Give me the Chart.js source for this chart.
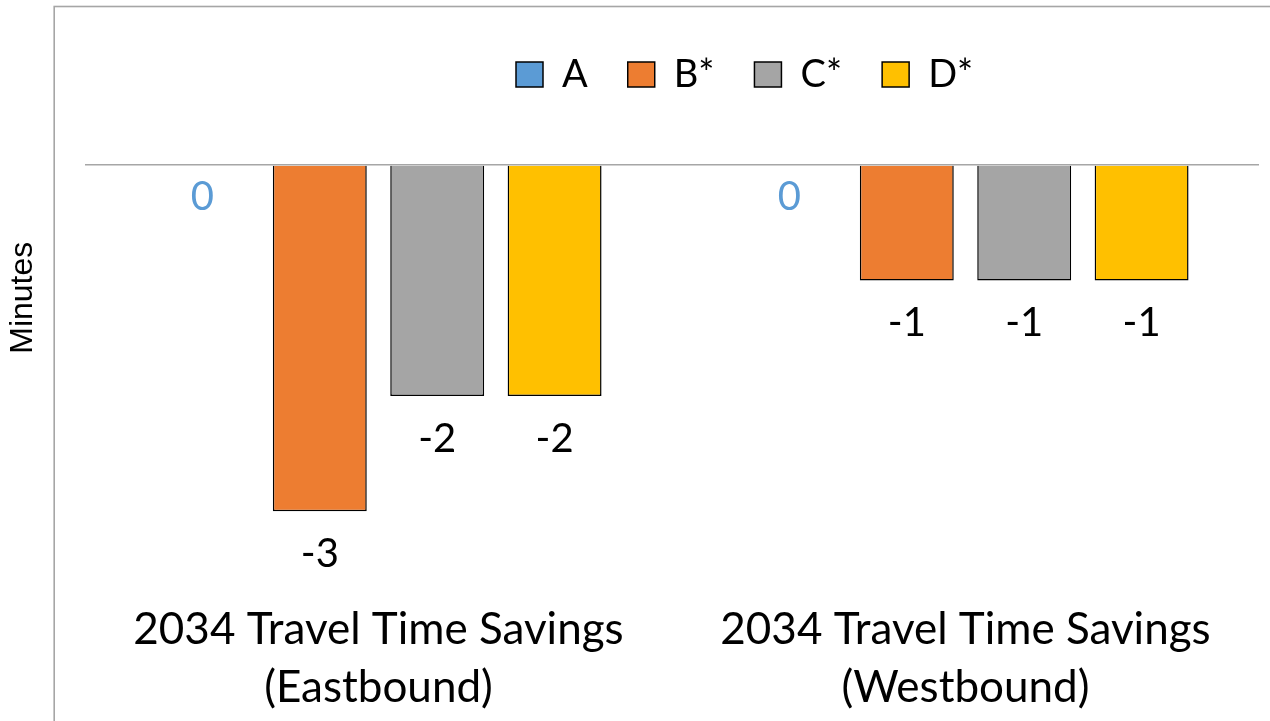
<!DOCTYPE html>
<html>
<head>
<meta charset="utf-8">
<script src="https://cdn.jsdelivr.net/npm/chart.js@4.4.1/dist/chart.umd.min.js"></script>
<style>
  html, body { margin: 0; padding: 0; background: #ffffff; }
  #wrap { width: 1270px; height: 721px; position: relative; }
</style>
</head>
<body>
<div id="wrap"><canvas id="c" width="1270" height="721"></canvas></div>
<script>
// ---- data ----
const categories = [
  ["2034 Travel Time Savings", "(Eastbound)"],
  ["2034 Travel Time Savings", "(Westbound)"]
];
const seriesNames = ["A", "B*", "C*", "D*"];
const seriesA = [0, 0];
const seriesB = [-3, -1];
const seriesC = [-2, -1];
const seriesD = [-2, -1];
const yAxisTitle = "Minutes";

// ---- styles ----
const colors = ["#5B9BD5", "#ED7D31", "#A5A5A5", "#FFC000"];
const labelColors = ["#5B9BD5", "#000000", "#000000", "#000000"];
const catFont = "Lato";

const seriesValues = [seriesA, seriesB, seriesC, seriesD];
const datasets = seriesNames.map((name, i) => ({
  label: name,
  data: seriesValues[i],
  backgroundColor: colors[i],
  borderColor: "#000000",
  borderWidth: 1.5,
  borderSkipped: "start",
  categoryPercentage: 0.8,
  barPercentage: 0.8
}));

const LEGEND_PAD = 40;
const LEGEND_FS = 38;
const LEGEND_H = Math.max(LEGEND_FS, 25) + LEGEND_PAD + 10;

const framePlugin = {
  id: "frame",
  beforeDraw(chart) {
    const ctx = chart.ctx;
    ctx.save();
    ctx.fillStyle = "#ffffff";
    ctx.fillRect(0, 0, chart.width, chart.height);
    ctx.strokeStyle = "#A6A6A6";
    ctx.lineWidth = 1.6;
    ctx.strokeRect(54.2, 6.5, 3000, 3000);
    ctx.restore();
  }
};

const legendPlace = {
  id: "legendPlace",
  afterLayout(chart) {
    const lg = chart.legend;
    if (!lg) return;
    const lo = lg.options.labels;
    const pad = lo.padding;
    const fs = lo.font.size;
    const itemH = Math.max(fs, lo.boxHeight || fs);
    const h = lg.height;
    lg.left = 516 - pad;
    lg.right = chart.width;
    lg.width = lg.right - lg.left;
    lg.top = 74.5 - pad - itemH / 2;
    lg.bottom = lg.top + h;
  }
};

const dataLabels = {
  id: "dataLabels",
  afterDatasetsDraw(chart) {
    const ctx = chart.ctx;
    ctx.save();
    ctx.font = "40px " + catFont;
    ctx.textAlign = "center";
    ctx.textBaseline = "middle";
    chart.data.datasets.forEach((ds, i) => {
      const meta = chart.getDatasetMeta(i);
      meta.data.forEach((el, j) => {
        const v = ds.data[j];
        ctx.fillStyle = labelColors[i];
        const y = el.y + (v < 0 ? 43 : 32);
        ctx.fillText(String(v), el.x, y);
      });
    });
    ctx.restore();
  }
};

new Chart(document.getElementById("c"), {
  type: "bar",
  data: { labels: categories, datasets: datasets },
  options: {
    responsive: false,
    animation: false,
    devicePixelRatio: 1,
    layout: { padding: { left: 0, right: 11, top: 49.5 - LEGEND_H, bottom: 5 } },
    plugins: {
      tooltip: { enabled: false },
      legend: {
        position: "top",
        align: "start",
        labels: {
          color: "#000000",
          boxWidth: 27,
          boxHeight: 25,
          padding: LEGEND_PAD,
          font: { family: catFont, size: LEGEND_FS }
        }
      }
    },
    scales: {
      x: {
        grid: { display: false, drawTicks: false },
        border: { display: false },
        ticks: {
          color: "#000000",
          padding: 55,
          font: { family: catFont, size: 44, lineHeight: 1.32 },
          maxRotation: 0
        },
        afterFit(scale) { scale.height = 170; }
      },
      y: {
        min: -3.3,
        max: 1,
        border: { display: false },
        grid: {
          drawTicks: false,
          lineWidth: 1.5,
          color: (c) => (c.tick && c.tick.value === 0 ? "#A6A6A6" : "rgba(0,0,0,0)")
        },
        ticks: { display: false, stepSize: 1 },
        title: {
          display: true,
          text: yAxisTitle,
          color: "#000000",
          font: { family: "Liberation Sans", size: 32, lineHeight: 1.2 },
          padding: { top: 4, bottom: 42.6 }
        }
      }
    }
  },
  plugins: [framePlugin, legendPlace, dataLabels]
});
</script>
</body>
</html>
